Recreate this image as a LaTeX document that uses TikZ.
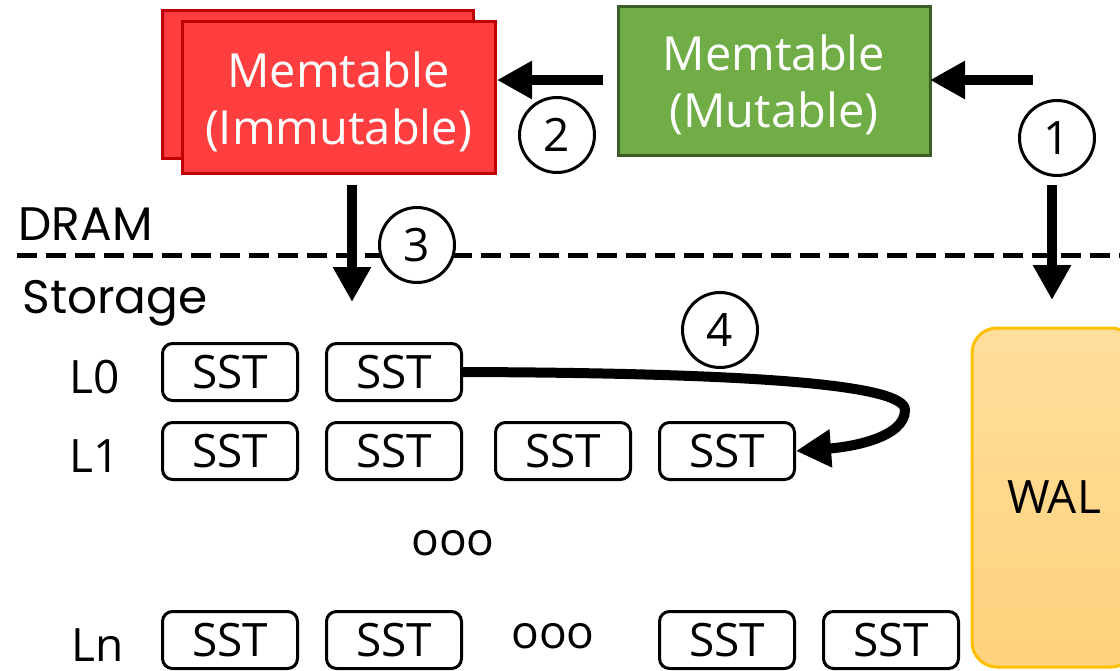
\documentclass[tikz,border=0pt]{standalone}
\usepackage{fontspec}
\setmainfont{Open Sans}
\newfontfamily\geofont{Poppins}
\usetikzlibrary{arrows.meta}

\definecolor{immfill}{HTML}{FF3F3F}
\definecolor{immline}{HTML}{C00000}
\definecolor{mutfill}{HTML}{70AD47}
\definecolor{mutline}{HTML}{3B5E27}
\definecolor{waltop}{HTML}{FFDE9C}
\definecolor{walbot}{HTML}{FFD27C}
\definecolor{walline}{HTML}{FFC000}

\tikzset{
  memtab/.style={draw, line width=3pt, inner sep=0pt},
  memtext/.style={text=white, align=center, inner sep=0pt,
    font=\fontsize{47}{57}\selectfont},
  sstbox/.style={draw, line width=3pt, rounded corners=10pt, minimum width=135pt,
    minimum height=57pt, inner sep=0pt, font=\fontsize{46}{50}\selectfont},
  numcirc/.style={circle, draw, fill=white, line width=3pt, minimum size=75pt,
    inner sep=0pt, font=\fontsize{46}{50}\selectfont},
  bigarrow/.style={line width=10pt, -{Triangle[length=35pt,width=36pt]}},
  lvl/.style={anchor=base west, font=\fontsize{46}{50}\selectfont},
  geolabel/.style={anchor=base west, font=\geofont\fontsize{47}{50}\selectfont},
}

\begin{document}
\begin{tikzpicture}[x=1pt, y=-1pt]
\useasboundingbox (0,0) rectangle (1120,670);
\clip (0,0) rectangle (1120,670);

% memtables
\draw[immline, fill=immfill, line width=3pt] (162,10) rectangle (473,158);
\node[memtab, draw=immline, fill=immfill, minimum width=313pt, minimum height=152pt]
  (imm) at (338.5,97) {};
\node[memtext] (immtxt) at ([yshift=-5pt]imm.center) {Memtable\\(Immutable)};
\node[memtab, draw=mutline, fill=mutfill, minimum width=312pt, minimum height=149pt]
  (mut) at (774,80.5) {};
\node[memtext] (muttxt) at ([yshift=-4pt]mut.center) {Memtable\\(Mutable)};

% write-ahead log
\node[draw=walline, line width=3pt, rounded corners=25pt, top color=waltop,
  bottom color=walbot, minimum width=164pt, minimum height=339pt, inner sep=0pt,
  font=\fontsize{46}{50}\selectfont] (wal) at (1054,497.5) {WAL};

% DRAM / storage boundary
\draw[line width=5pt, dash pattern=on 20pt off 9pt] (17,255) -- (1120,255);
\node[geolabel] (dram) at (15,240) {DRAM};
\node[geolabel] (stor) at (19,313) {Storage};

% step markers
\node[numcirc] (n1) at (1057,138) {1};
\node[numcirc] (n2) at (557,135) {2};
\node[numcirc] (n3) at (417,245) {3};
\node[numcirc] (n4) at (720,330) {4};

% level labels
\node[lvl] (l0) at (66,393) {L0};
\node[lvl] (l1) at (66,472) {L1};
\node[lvl] (ln) at (68,661) {Ln};

% SST files
\node[sstbox] (a1) at (230,372) {SST};
\node[sstbox] (a2) at (394,372) {SST};
\node[sstbox] (b1) at (230,451) {SST};
\node[sstbox] (b2) at (394,451) {SST};
\node[sstbox] (b3) at (563,451) {SST};
\node[sstbox] (b4) at (727,451) {SST};
\node[sstbox] (c1) at (230,640) {SST};
\node[sstbox] (c2) at (394,640) {SST};
\node[sstbox] (c3) at (727,640) {SST};
\node[sstbox] (c4) at (891,640) {SST};
\node[font=\fontsize{46}{50}\selectfont] (dots1) at (453,543) {ooo};
\node[font=\fontsize{46}{50}\selectfont] (dots2) at (553,636) {ooo};

% arrow end points
\coordinate (w1) at (1033,80);
\coordinate (w1e) at (930,80);
\coordinate (f2) at (603,80);
\coordinate (f2e) at (497,80);
\coordinate (w1d) at (1052,185);
\coordinate (w1de) at (1052,300);
\coordinate (f3) at (352,185);
\coordinate (f3e) at (352,302);

% arrows
\draw[bigarrow] (w1) -- (w1e);
\draw[bigarrow] (f2) -- (f2e);
\draw[bigarrow] (w1d) -- (w1de);
\draw[bigarrow] (f3) -- (f3e);
\draw[bigarrow] (a2.east) .. controls (760,373) and (905,385) .. (905,410)
  .. controls (905,438) and (850,447) .. (b4.east);
\end{tikzpicture}
\end{document}
